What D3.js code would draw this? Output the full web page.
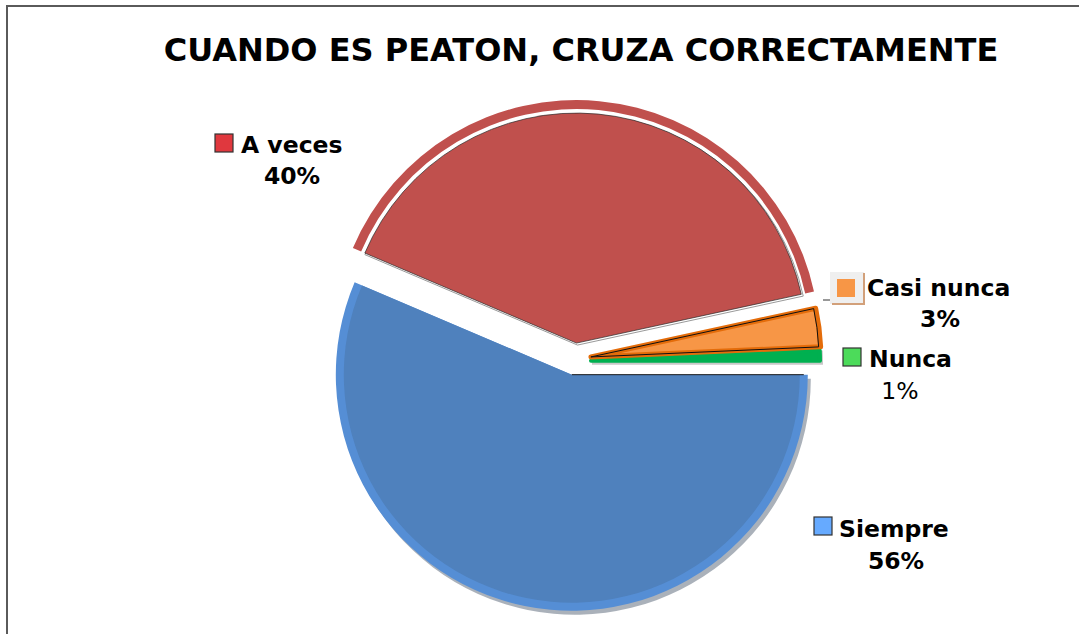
<!DOCTYPE html>
<html lang="es">
<head>
    <meta charset="UTF-8">
    <title>Cuando es peaton, cruza correctamente</title>
    <style>
        html, body {
            margin: 0;
            padding: 0;
            background-color: #ffffff;
            font-family: 'DejaVu Sans', Verdana, sans-serif;
        }
        svg { display: block; }
    </style>
</head>
<body>
    <div id="chart"></div>
    <script src="https://d3js.org/d3.v7.min.js"></script>
    <script>
        // DATA
        const categories = ["Siempre", "A veces", "Casi nunca", "Nunca"];
        const values = [56.4, 40.2, 2.7, 0.7];
        const boldPct = [true, true, true, false];

        // COLOURS
        const fillColors = ["#4F81BD", "#C0504D", "#F79646", "#00B050"];
        const rimColors = ["#558ED5", "#C0504D", "#E46C0A", "#00B050"];
        const keyColors = ["#66AAFF", "#E0383E", "#F79646", "#4CDB5A"];

        const width = 1079, height = 634;
        const cx = 575, cy = 359;
        const radius = 236;
        const explode = 16;

        // label layout (key box + name + percent)
        const labelLayout = [
            {kx: 814, ky: 517, tx: 839, ty: 537, px: 896, py: 569},
            {kx: 215, ky: 134, tx: 241, ty: 153, px: 292, py: 184},
            {kx: 837, ky: 279, tx: 867, ty: 296, px: 940, py: 327},
            {kx: 843, ky: 348, tx: 869, ty: 367, px: 900, py: 399}
        ];

        const svg = d3.select("#chart")
            .append("svg")
            .attr("width", width)
            .attr("height", height);

        // FRAME (left + top only)
        svg.append("path")
            .attr("d", `M7,${height} L7,6 L${width},6`)
            .attr("fill", "none")
            .attr("stroke", "#5a5a5a")
            .attr("stroke-width", 2);

        // TITLE
        svg.append("text")
            .attr("x", 581)
            .attr("y", 61)
            .attr("text-anchor", "middle")
            .style("font-size", "32px")
            .style("font-weight", "bold")
            .text("CUANDO ES PEATON, CRUZA CORRECTAMENTE");

        // PIE
        const pie = d3.pie()
            .sort(null)
            .startAngle(Math.PI / 2)
            .endAngle(Math.PI / 2 + 2 * Math.PI);
        const arcs = pie(values);
        const total = d3.sum(values);
        const pct = d3.format(".0%");

        const offset = (d) => {
            const mid = (d.startAngle + d.endAngle) / 2;
            return [cx + explode * Math.sin(mid), cy - explode * Math.cos(mid)];
        };

        const arc = (r0, r1) => d3.arc().innerRadius(r0).outerRadius(r1);

        // Siempre : shadow, light rim, body
        {
            const d = arcs[0];
            const [ox, oy] = offset(d);
            const g = svg.append("g").attr("transform", `translate(${ox},${oy})`);
            g.append("path")
                .attr("d", arc(0, radius)(d))
                .attr("transform", "translate(3,4)")
                .attr("fill", "#8d97a3")
                .attr("opacity", 0.75);
            g.append("path")
                .attr("d", arc(0, radius)(d))
                .attr("fill", rimColors[0]);
            g.append("path")
                .attr("d", arc(0, radius - 8)(d))
                .attr("fill", fillColors[0]);
            g.append("line")
                .attr("x1", 0).attr("y1", 0)
                .attr("x2", radius * Math.sin(d.startAngle) - 4).attr("y2", 0)
                .attr("stroke", "#1a1a1a")
                .attr("stroke-width", 1);
        }

        // A veces : detached rim ring + body
        {
            const d = arcs[1];
            const [ox, oy] = offset(d);
            const g = svg.append("g").attr("transform", `translate(${ox},${oy})`);
            g.append("path")
                .attr("d", arc(0, radius - 5)(d))
                .attr("transform", "translate(1,2)")
                .attr("fill", "none")
                .attr("stroke", "#9a9a9a")
                .attr("stroke-width", 1);
            g.append("path")
                .attr("d", arc(radius - 2, radius + 7)(d))
                .attr("fill", rimColors[1]);
            g.append("path")
                .attr("d", arc(0, radius - 6)(d))
                .attr("fill", fillColors[1])
                .attr("stroke", "#2a2a2a")
                .attr("stroke-width", 0.7);
        }

        // Nunca (under the orange border)
        {
            const d = arcs[3];
            const [ox, oy] = offset(d);
            const g = svg.append("g").attr("transform", `translate(${ox},${oy + 2})`);
            g.append("path")
                .attr("d", arc(0, radius - 7)(d))
                .attr("transform", "translate(1,2)")
                .attr("fill", "#c8c8c8")
                .attr("stroke", "#c8c8c8")
                .attr("stroke-width", 4);
            g.append("path")
                .attr("d", arc(0, radius - 7)(d))
                .attr("fill", fillColors[3])
                .attr("stroke", rimColors[3])
                .attr("stroke-width", 4)
                .attr("stroke-linejoin", "round");
        }

        // Casi nunca : thick dark orange border + inner outline
        {
            const d = arcs[2];
            const [ox, oy] = offset(d);
            const g = svg.append("g").attr("transform", `translate(${ox},${oy})`);
            g.append("path")
                .attr("d", arc(0, radius - 6)(d))
                .attr("fill", fillColors[2])
                .attr("stroke", rimColors[2])
                .attr("stroke-width", 5)
                .attr("stroke-linejoin", "round");
            g.append("path")
                .attr("d", arc(0, radius - 8)(d))
                .attr("fill", "none")
                .attr("stroke", "#111")
                .attr("stroke-width", 1);
        }

        // LABELS
        // bevel behind the Casi nunca key + short leader
        svg.append("rect")
            .attr("x", 830).attr("y", 272)
            .attr("width", 34).attr("height", 32)
            .attr("fill", "#efefef");
        svg.append("path")
            .attr("d", "M832,304 L864,304 L864,273")
            .attr("fill", "none")
            .attr("stroke", "#d2a07a")
            .attr("stroke-width", 2);
        svg.append("line")
            .attr("x1", 823).attr("y1", 300)
            .attr("x2", 830).attr("y2", 300)
            .attr("stroke", "#333")
            .attr("stroke-width", 1);

        const labels = svg.selectAll("g.label")
            .data(arcs)
            .enter()
            .append("g")
            .attr("class", "label");

        labels.append("rect")
            .attr("x", (d, i) => labelLayout[i].kx)
            .attr("y", (d, i) => labelLayout[i].ky)
            .attr("width", 18)
            .attr("height", 18)
            .attr("fill", (d, i) => keyColors[i])
            .attr("stroke", (d, i) => i === 2 ? "none" : "#333")
            .attr("stroke-width", 1.2);

        labels.append("text")
            .attr("x", (d, i) => labelLayout[i].tx)
            .attr("y", (d, i) => labelLayout[i].ty)
            .style("font-size", "23.5px")
            .style("font-weight", "bold")
            .text((d, i) => categories[i]);

        labels.append("text")
            .attr("x", (d, i) => labelLayout[i].px)
            .attr("y", (d, i) => labelLayout[i].py)
            .attr("text-anchor", "middle")
            .style("font-size", "23.5px")
            .style("font-weight", (d, i) => boldPct[i] ? "bold" : "normal")
            .text((d) => pct(d.value / total));
    </script>
</body>
</html>
